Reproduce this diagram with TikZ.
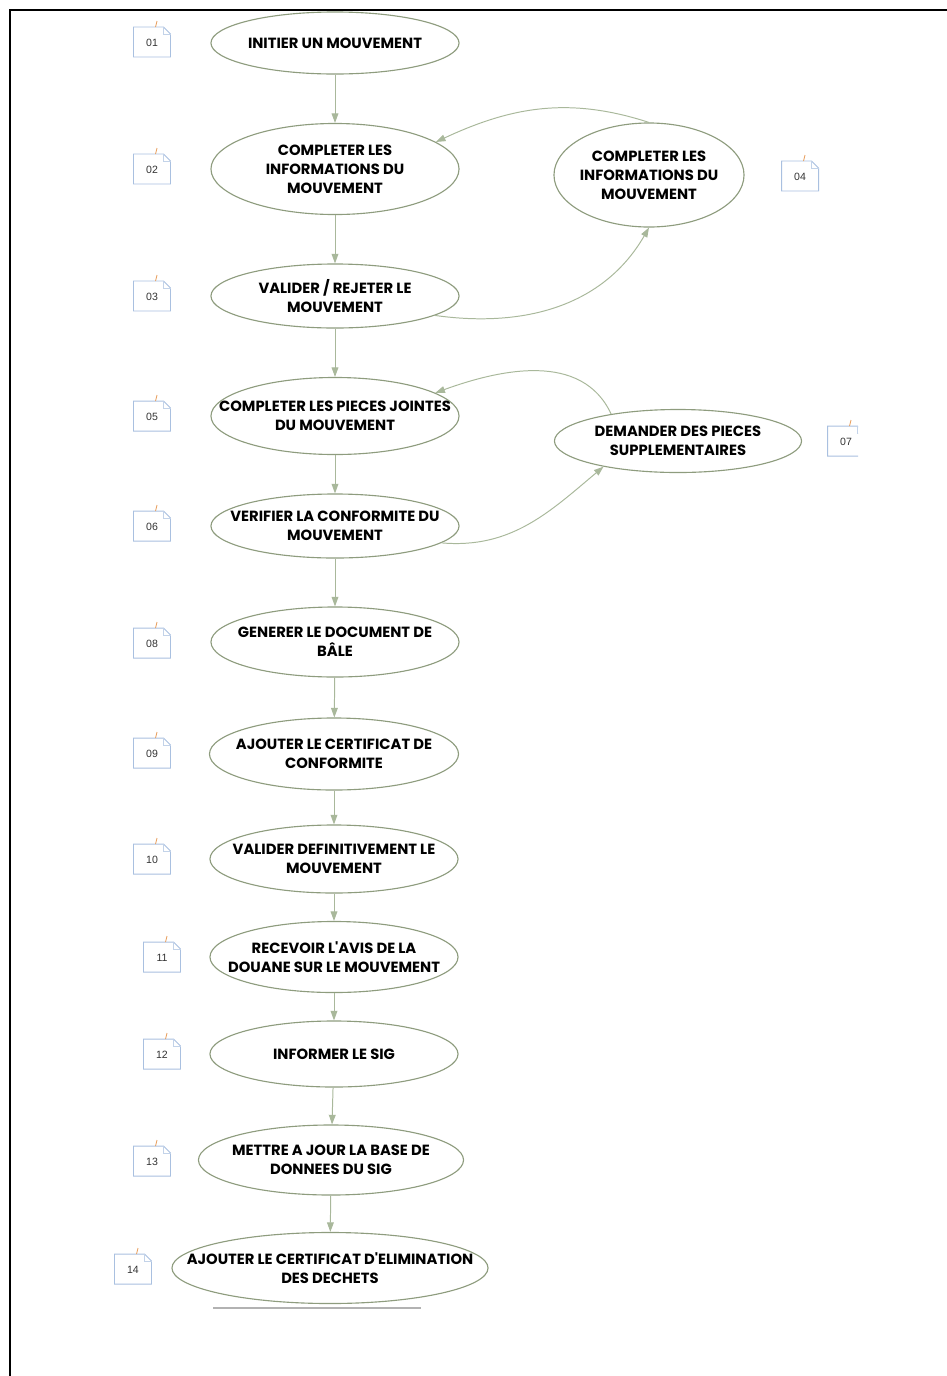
\documentclass[tikz,border=0pt]{standalone}
\usepackage{fontspec}
\setmainfont{Poppins}
\newfontfamily\numfont{Liberation Sans}
\usetikzlibrary{shapes, arrows.meta, positioning}

\definecolor{contour}{HTML}{8E9C7E}
\definecolor{fleche}{HTML}{A9B89B}
\definecolor{bordnote}{HTML}{A9C0E0}
\definecolor{punaise}{HTML}{E8A060}

\tikzset{
	etape/.style 2 args={ellipse, draw=contour, line width=0.8pt, fill=white, minimum width=#1, minimum height=#2, inner sep=0pt},
	txt/.style={align=center, text=black, font=\fontsize{10.5}{13.5}\selectfont\bfseries},
	lien/.style={color=fleche, line width=0.7pt, -{Triangle[length=0.24cm, width=0.17cm]}},
	repere/.pic={
		\draw[bordnote, line width=0.7pt, fill=white] (-18.5,-15) -- (11.5,-15) -- (18.5,-8) -- (18.5,15) -- (-18.5,15) -- cycle;
		\draw[bordnote!70, line width=0.5pt] (11.5,-15) -- (11.5,-8) -- (18.5,-8);
		\draw[punaise, line width=0.6pt] (3.5,-15) -- (5,-21);
		\node[font=\numfont\fontsize{7.5}{9}\selectfont, text=black!80, inner sep=0pt] (-t) at (0,1) {#1};
	}
}

\begin{document}
\begin{tikzpicture}[x=0.025cm, y=-0.025cm]
	\useasboundingbox (0,0) rectangle (947,1376);
	% cadre
	\draw[line width=1.5pt] (10,1377) -- (10,10) -- (948,10);

	% etapes
	\node[etape={6.2cm}{1.55cm}, label={[txt]center:INITIER UN MOUVEMENT}] (v01) at (335,43) {};
	\node[etape={6.2cm}{2.275cm}, label={[txt]center:{COMPLETER LES\\INFORMATIONS DU\\MOUVEMENT}}] (v02) at (335,169) {};
	\node[etape={6.2cm}{1.6cm}, label={[txt]center:{VALIDER / REJETER LE\\MOUVEMENT}}] (v03) at (335,296) {};
	\node[etape={4.75cm}{2.6cm}, label={[txt]center:{COMPLETER LES\\INFORMATIONS DU\\MOUVEMENT}}] (v04) at (649,175) {};
	\node[etape={6.2cm}{1.925cm}, label={[txt]center:{COMPLETER LES PIECES JOINTES\\DU MOUVEMENT}}] (v05) at (335,416) {};
	\node[etape={6.2cm}{1.6cm}, label={[txt]center:{VERIFIER LA CONFORMITE DU\\MOUVEMENT}}] (v06) at (335,526) {};
	\node[etape={6.175cm}{1.575cm}, label={[txt]center:{DEMANDER DES PIECES\\SUPPLEMENTAIRES}}] (v07) at (678,441) {};
	\node[etape={6.2cm}{1.75cm}, label={[txt]center:{GENERER LE DOCUMENT DE\\BÂLE}}] (v08) at (335,642) {};
	\node[etape={6.225cm}{1.8cm}, label={[txt]center:{AJOUTER LE CERTIFICAT DE\\CONFORMITE}}] (v09) at (334,754) {};
	\node[etape={6.2cm}{1.7cm}, label={[txt]center:{VALIDER DEFINITIVEMENT LE\\MOUVEMENT}}] (v10) at (334,859) {};
	\node[etape={6.2cm}{1.775cm}, label={[txt]center:{RECEVOIR L\textquotesingle AVIS DE LA\\DOUANE SUR LE MOUVEMENT}}] (v11) at (334,957) {};
	\node[etape={6.2cm}{1.65cm}, label={[txt]center:INFORMER LE SIG}] (v12) at (334,1054) {};
	\node[etape={6.625cm}{1.75cm}, label={[txt]center:{METTRE A JOUR LA BASE DE\\DONNEES DU SIG}}] (v13) at (331,1160) {};
	\node[etape={7.9cm}{1.775cm}, label={[txt]center:{AJOUTER LE CERTIFICAT D\textquotesingle ELIMINATION\\DES DECHETS}}] (v14) at (330,1268) {};

	% reperes
	\pic (r01) at (152,42) {repere=01};
	\pic (r02) at (152,169) {repere=02};
	\pic (r03) at (152,296) {repere=03};
	\pic (r04) at (800,176) {repere=04};
	\pic (r05) at (152,416) {repere=05};
	\pic (r06) at (152,526) {repere=06};
	\begin{scope}
		\clip (800,400) rectangle (858,480);
		\pic (r07) at (846,441) {repere=07};
	\end{scope}
	\pic (r08) at (152,643) {repere=08};
	\pic (r09) at (152,753) {repere=09};
	\pic (r10) at (152,859) {repere=10};
	\pic (r11) at (162,957) {repere=11};
	\pic (r12) at (162,1054) {repere=12};
	\pic (r13) at (152,1161) {repere=13};
	\pic (r14) at (133,1269) {repere=14};

	% liens
	\path[lien]
		(v01) edge (v02)
		(v02) edge (v03)
		(v03) edge (v05)
		(v05) edge (v06)
		(v06) edge (v08)
		(v08) edge (v09)
		(v09) edge (v10)
		(v10) edge (v11)
		(v11) edge (v12)
		(v12) edge (v13)
		(v13) edge (v14)
		(v03.-11) edge [out=-8, in=-120] (v04.south)
		(v04.north) edge [out=162, in=25] (v02.15)
		(v06.-9) edge [out=-5, in=-140] (v07.-161)
		(v07.158) edge [out=115, in=20] (v05.13);

	% trait final
	\draw[black!30, line width=1pt] (213,1308) -- (421,1308);
\end{tikzpicture}
\end{document}
